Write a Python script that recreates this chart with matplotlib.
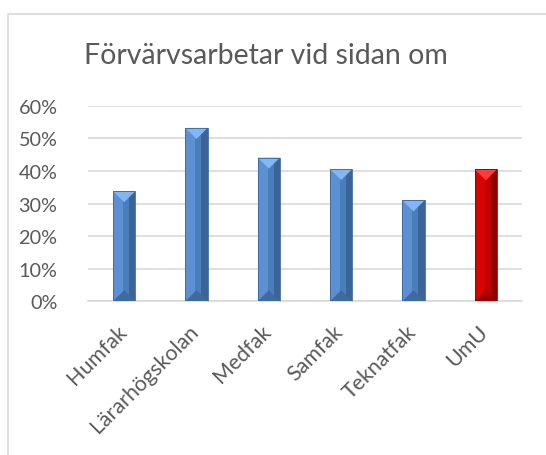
import matplotlib
matplotlib.use("Agg")
import matplotlib.pyplot as plt
import matplotlib.ticker as mticker
import matplotlib.transforms as mtransforms
from matplotlib.lines import Line2D
from matplotlib.patches import Polygon, Rectangle

# Data
categories = ["Humfak", "Lärarhögskolan", "Medfak", "Samfak", "Teknatfak", "UmU"]
values = [0.338, 0.532, 0.441, 0.406, 0.310, 0.405]
highlight = "UmU"

blue = {"base": "#4A7EBB", "left": "#5B90D3", "right": "#3B6597", "top": "#82B6F6", "bottom": "#3E6A9E"}
red = {"base": "#C00000", "left": "#D80404", "right": "#8E0000", "top": "#FF3B3B", "bottom": "#A00000"}

plt.rcParams["font.family"] = ["Lato", "DejaVu Sans"]

fig = plt.figure(figsize=(5.46, 4.56), dpi=100)
ax = fig.add_axes([88 / 546, 1 - 302.3 / 456, (522 - 88) / 546, (302.3 - 106.7) / 456])

# chart border (only left and top are inside the picture)
fig.lines.append(Line2D([7.5 / 546, 7.5 / 546, 1.0], [0, 1 - 14.5 / 456, 1 - 14.5 / 456],
                        transform=fig.transFigure, color="#D9D9D9", linewidth=1.2))

width = 0.31
xs = list(range(len(categories)))
ax.bar(xs, values, width=width, color=blue["base"], zorder=2, linewidth=0)

dy = 0.034  # bevel depth in data units
for x, v, cat in zip(xs, values, categories):
    c = red if cat == highlight else blue
    x0 = x - width / 2
    x1 = x + width / 2
    xa = x0 + width * 0.45
    xb = x0 + width * 0.72
    ax.add_patch(Polygon([(x0, 0), (xa, 0), (xa, v), (x0, v)],
                         closed=True, facecolor=c["left"], edgecolor="none", zorder=3))
    ax.add_patch(Polygon([(xa, 0), (xb, 0), (xb, v), (xa, v)],
                         closed=True, facecolor=c["base"], edgecolor="none", zorder=3))
    ax.add_patch(Polygon([(xb, 0), (x1, 0), (x1, v), (xb, v)],
                         closed=True, facecolor=c["right"], edgecolor="none", zorder=3))
    # top and bottom bevels
    ax.add_patch(Polygon([(x0, v), (x1, v), (x, v - dy)], closed=True,
                         facecolor=c["top"], edgecolor="none", zorder=4))
    ax.add_patch(Polygon([(x0, 0), (x1, 0), (x, dy)], closed=True,
                         facecolor=c["bottom"], edgecolor="none", zorder=4))
    ax.add_patch(Rectangle((x0, 0), width, v, fill=False, edgecolor=c["right"],
                           linewidth=0.6, zorder=5))

ax.set_xlim(-0.5, len(categories) - 0.5)
ax.set_ylim(0, 0.6)
ax.set_yticks([0, 0.1, 0.2, 0.3, 0.4, 0.5, 0.6])
ax.yaxis.set_major_formatter(mticker.PercentFormatter(1.0, decimals=0))
ax.grid(axis="y", color="#D9D9D9", linewidth=1.2, zorder=0)
ax.set_axisbelow(True)
for s in ["top", "right", "left"]:
    ax.spines[s].set_visible(False)
ax.spines["bottom"].set_color("#D9D9D9")
ax.spines["bottom"].set_linewidth(1.2)
ax.tick_params(length=0, colors="#595959", labelsize=14.3)
ax.tick_params(axis="y", pad=22)

ax.set_xticks(xs)
ax.set_xticklabels(categories, rotation=45, ha="right", rotation_mode="anchor",
                   color="#595959", fontsize=15.4)
ax.tick_params(axis="x", pad=14)
shift = mtransforms.ScaledTranslation(-8 / 100, 0, fig.dpi_scale_trans)
for lbl in ax.get_xticklabels():
    lbl.set_transform(lbl.get_transform() + shift)

fig.text((86 + 446) / 2 / 546, 1 - 56 / 456, "Förvärvsarbetar vid sidan om",
         ha="center", va="center", fontsize=20.5, color="#595959")

fig.savefig("out.png", dpi=100)
